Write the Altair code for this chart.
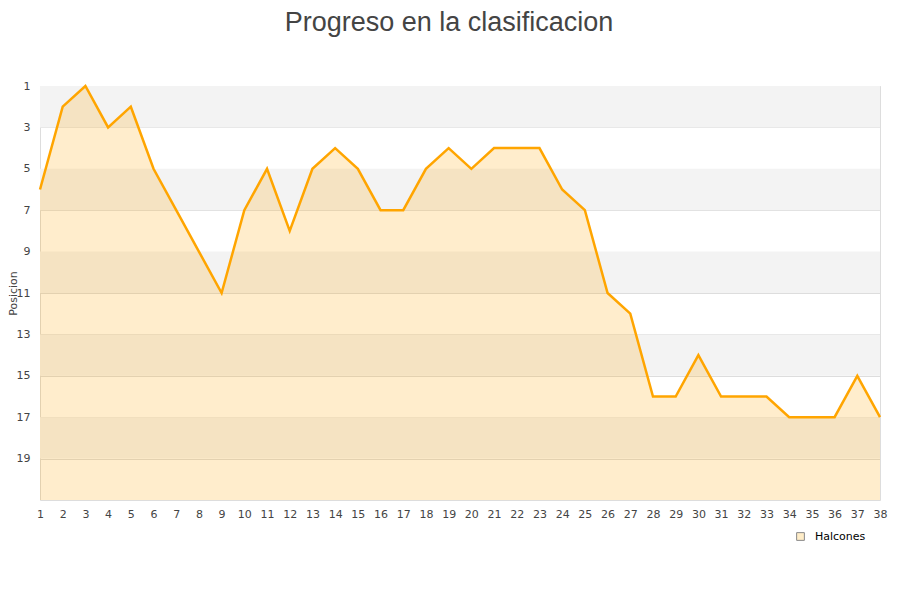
import altair as alt
import pandas as pd

jornadas = list(range(1, 39))
posiciones = [6, 2, 1, 3, 2, 5, 7, 9, 11, 7, 5, 8, 5, 4, 5, 7, 7, 5, 4, 5,
              4, 4, 4, 6, 7, 11, 12, 16, 16, 14, 16, 16, 16, 17, 17, 17, 15, 17]
serie = "Halcones"
band_start = [1, 5, 9, 13, 17]
band_end = [3, 7, 11, 15, 19]
y_ticks = [1, 3, 5, 7, 9, 11, 13, 15, 17, 19]

df = pd.DataFrame({"Jornada": jornadas, "Posicion": posiciones, "Equipo": [serie] * len(jornadas)})
bands = pd.DataFrame({"y1": band_start, "y2": band_end})

xscale = alt.Scale(domain=[1, 38], nice=False, zero=False)
yscale = alt.Scale(domain=[1, 21], reverse=True, nice=False, zero=False)

base_x = alt.X("Jornada:Q", scale=xscale,
               axis=alt.Axis(values=jornadas, title=None, grid=False, ticks=False,
                             labelPadding=8, labelFontSize=11, labelColor="#444",
                             domain=False, format="d", labelFlush=False))

band_layer = alt.Chart(bands).mark_rect(color="#f3f3f3").encode(
    x=alt.value(0), x2=alt.value(840),
    y=alt.Y("y1:Q", scale=yscale,
            axis=alt.Axis(values=y_ticks, title="Posicion", grid=True, gridColor="#dddddd",
                          ticks=False, domain=False, labelPadding=10, labelFontSize=11,
                          labelColor="#444", titleFontSize=11, titleFontWeight="normal",
                          titleColor="#444", titlePadding=-2, format="d")),
    y2="y2:Q",
)

area = alt.Chart(df).mark_area(opacity=0.2, interpolate="linear", color="#FFA500").encode(
    x=base_x,
    y=alt.Y("Posicion:Q", scale=yscale),
    y2=alt.datum(21),
)

line = alt.Chart(df).mark_line(color="#FFA500", strokeWidth=2.5).encode(
    x=base_x,
    y=alt.Y("Posicion:Q", scale=yscale),
)

legend_layer = alt.Chart(df.head(1)).mark_square(opacity=0, size=60).encode(
    x=base_x,
    y=alt.Y("Posicion:Q", scale=yscale),
    fill=alt.Fill("Equipo:N", scale=alt.Scale(range=["#FFEDC8"]),
                  legend=alt.Legend(title=None, orient="none", legendX=755, legendY=445,
                                    symbolType="square", symbolSize=60,
                                    symbolStrokeColor="#888", symbolStrokeWidth=1,
                                    symbolOpacity=1, labelOffset=9,
                                    labelFontSize=11, labelColor="#000")),
)

chart = alt.layer(band_layer, area, line, legend_layer).properties(
    width=840, height=414,
    title=alt.TitleParams("Progreso en la clasificacion", fontSize=27, fontWeight="normal",
                          color="#444", anchor="middle", offset=43, dx=-11,
                          font="Liberation Sans"),
    autosize=alt.AutoSizeParams(type="none"),
    padding={"left": 32, "top": 78, "right": 12, "bottom": 92},
).configure_view(stroke="#dddddd").configure(font="DejaVu Sans")

chart.save("out.html", embed_options={"renderer": "svg", "actions": False})
